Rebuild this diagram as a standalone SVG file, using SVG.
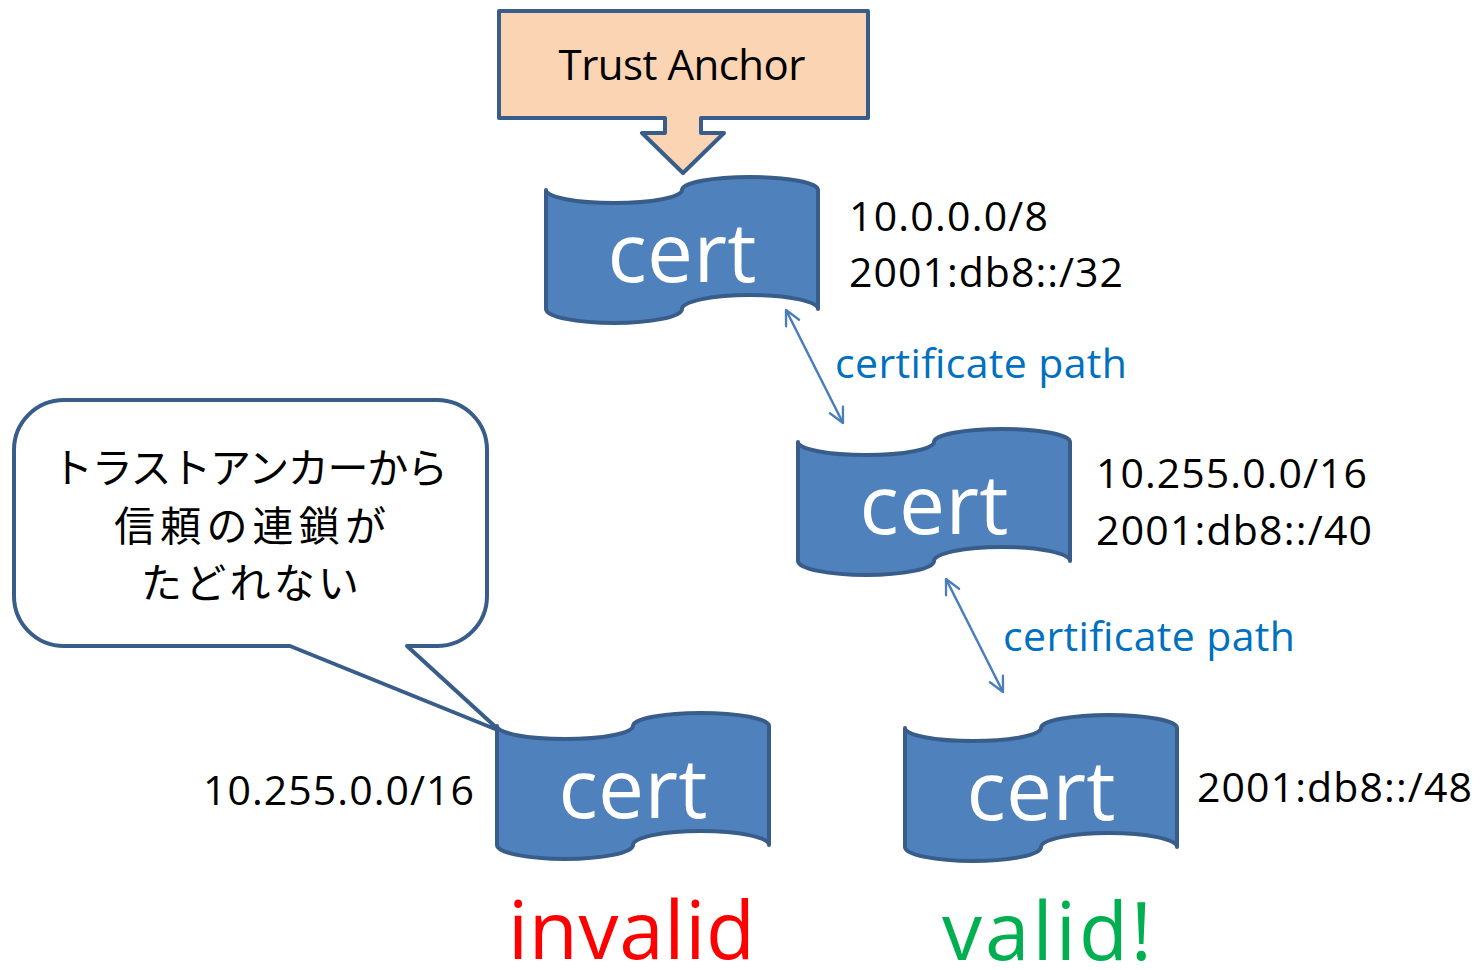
<svg xmlns="http://www.w3.org/2000/svg" width="1482" height="970" viewBox="0 0 1482 970">
<style>
.shape{stroke:#385D8A;stroke-width:4;stroke-linejoin:round}
.cert{fill:#4F81BD}
.certtxt{font-family:"Open Sans","Liberation Sans",sans-serif;font-size:82px;fill:#FFFFFF;text-anchor:middle}
.lbl{font-family:"Open Sans","Liberation Sans",sans-serif;font-size:41px;fill:#000000}
.path{font-family:"Open Sans","Liberation Sans",sans-serif;font-size:41px;fill:#0070C0}
.big{font-family:"Open Sans","Liberation Sans",sans-serif;font-size:80px}
.jp{font-family:"Noto Sans CJK JP","Noto Sans CJK SC",sans-serif;font-size:41px;fill:#000000;text-anchor:middle}
.conn{stroke:#4A7EBB;stroke-width:2.5;fill:none}
</style>
<defs>
<path id="tape" d="M0,12 A68,13 0 0 0 136,12 A68,13 0 0 1 272,12 L272,131 A68,14 0 0 0 136,131 A68,14 0 0 1 0,131 Z"/>
<marker id="ah" viewBox="0 0 12 12" refX="11" refY="6" markerWidth="7" markerHeight="7" orient="auto-start-reverse" markerUnits="strokeWidth">
<path d="M1,1 L11,6 L1,11" fill="none" stroke="#4A7EBB" stroke-width="1.6" stroke-linecap="round" stroke-linejoin="round"/>
</marker>
</defs>

<g id="trust-anchor">
<path class="shape" fill="#FBD4B4" stroke-linejoin="miter" d="M499,11 H868 V118 H701 V133 H724 L683,173 L642,133 H665 V118 H499 Z"/>
<text x="682" y="80" font-family="'Open Sans','Liberation Sans',sans-serif" font-size="42" fill="#000" text-anchor="middle" textLength="247" lengthAdjust="spacing">Trust Anchor</text>
</g>

<g id="callout">
<path class="shape" fill="#FFFFFF" d="M64,400 H437 A50,50 0 0 1 487,450 V596 A50,50 0 0 1 437,646 H407 L500,731 L290,646 H64 A50,50 0 0 1 14,596 V450 A50,50 0 0 1 64,400 Z"/>
<text class="jp" x="250" y="483" textLength="396" lengthAdjust="spacing">トラストアンカーから</text>
<text class="jp" x="250" y="541" textLength="272" lengthAdjust="spacing">信頼の連鎖が</text>
<text class="jp" x="250" y="598" textLength="218" lengthAdjust="spacing">たどれない</text>
</g>

<g id="cert-root" transform="translate(546,178)">
<use href="#tape" class="shape cert"/>
<text class="certtxt" x="136" y="104" textLength="149" lengthAdjust="spacing">cert</text>
</g>
<g id="cert-mid" transform="translate(798,430)">
<use href="#tape" class="shape cert"/>
<text class="certtxt" x="136" y="104" textLength="149" lengthAdjust="spacing">cert</text>
</g>
<g id="cert-invalid" transform="translate(497,714)">
<use href="#tape" class="shape cert"/>
<text class="certtxt" x="136" y="104" textLength="149" lengthAdjust="spacing">cert</text>
</g>
<g id="cert-valid" transform="translate(905,716)">
<use href="#tape" class="shape cert"/>
<text class="certtxt" x="136" y="104" textLength="149" lengthAdjust="spacing">cert</text>
</g>

<g id="labels">
<text class="lbl" x="849" y="231" textLength="199" lengthAdjust="spacing">10.0.0.0/8</text>
<text class="lbl" x="849" y="287" textLength="274" lengthAdjust="spacing">2001:db8::/32</text>
<text class="lbl" x="1096" y="488" textLength="271" lengthAdjust="spacing">10.255.0.0/16</text>
<text class="lbl" x="1096" y="545" textLength="276" lengthAdjust="spacing">2001:db8::/40</text>
<text class="lbl" x="203" y="805" textLength="271" lengthAdjust="spacing">10.255.0.0/16</text>
<text class="lbl" x="1197" y="802" textLength="275" lengthAdjust="spacing">2001:db8::/48</text>
<text class="big" x="508" y="959" fill="#FF0000" textLength="247" lengthAdjust="spacing">invalid</text>
<text class="big" x="942" y="960" fill="#00B050" textLength="210" lengthAdjust="spacing">valid!</text>
</g>

<g id="connectors">
<line class="conn" x1="786" y1="310" x2="843" y2="423" marker-start="url(#ah)" marker-end="url(#ah)"/>
<text class="path" x="835" y="378" textLength="292" lengthAdjust="spacing">certificate path</text>
<line class="conn" x1="946" y1="579" x2="1003" y2="692" marker-start="url(#ah)" marker-end="url(#ah)"/>
<text class="path" x="1003" y="651" textLength="292" lengthAdjust="spacing">certificate path</text>
</g>
</svg>
